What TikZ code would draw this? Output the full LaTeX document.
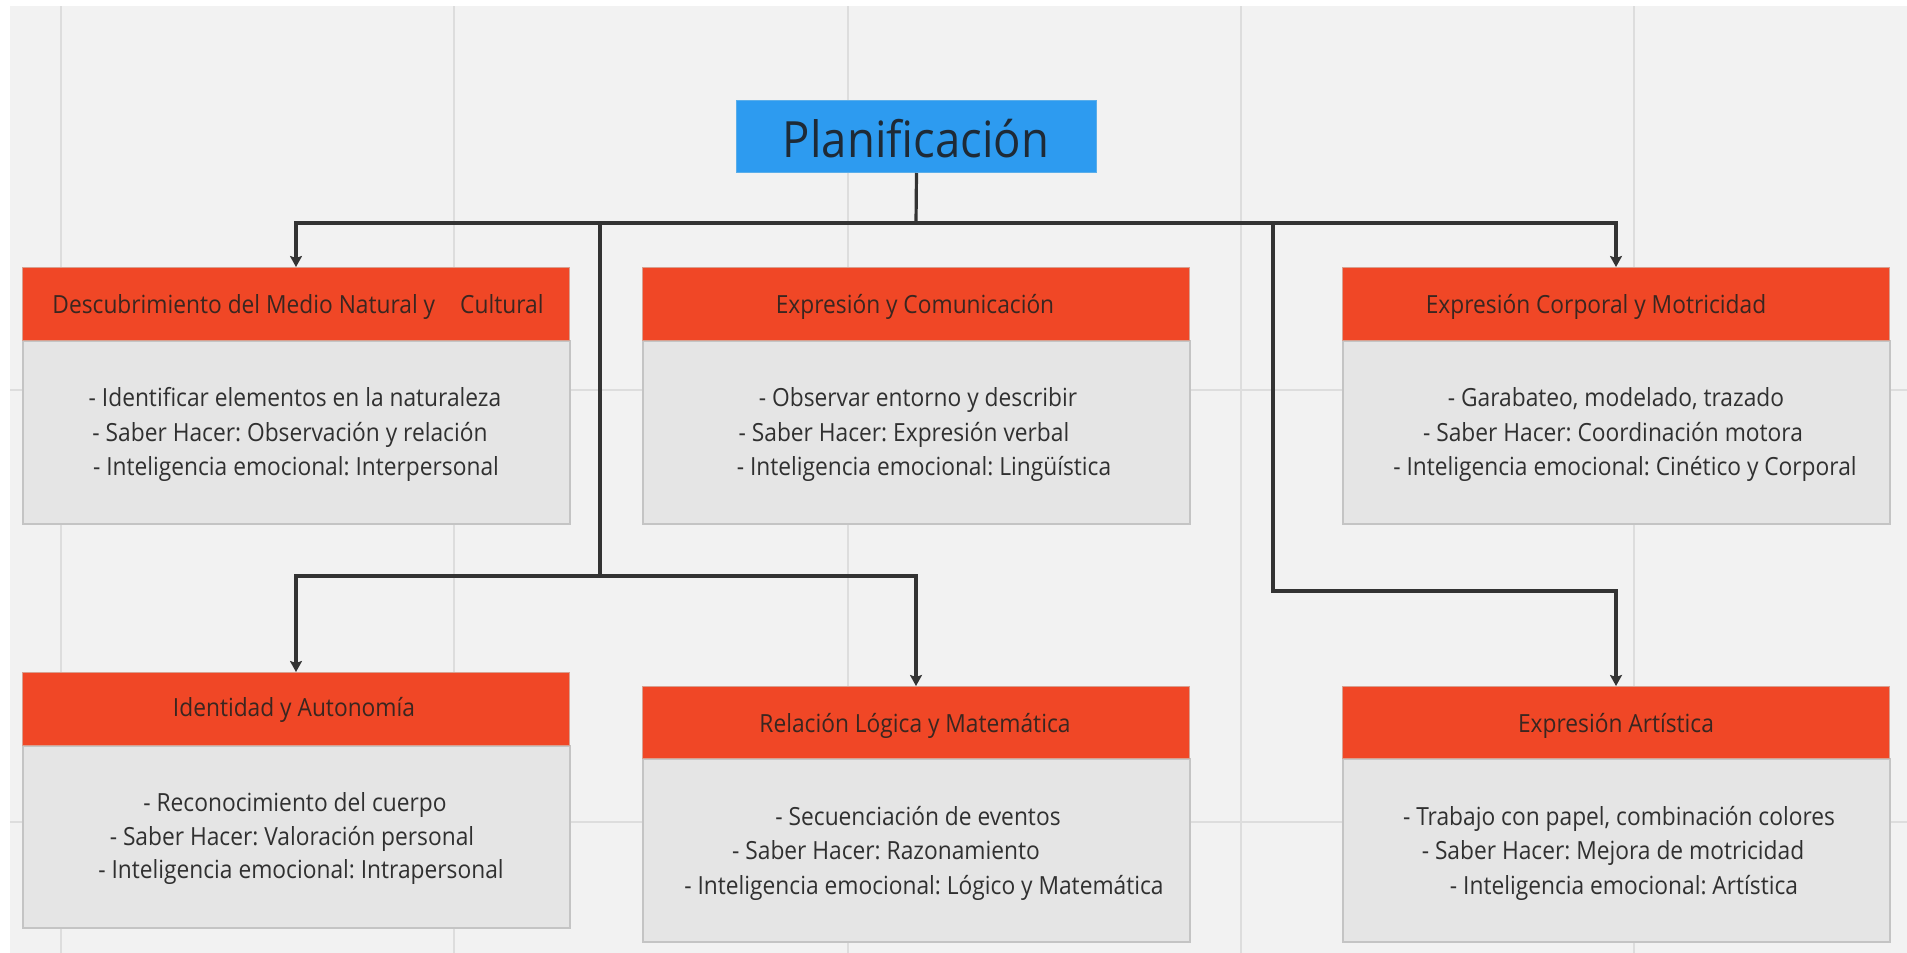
\documentclass[tikz,border=0pt]{standalone}
\usepackage{fontspec}
\setmainfont{Open Sans}[FakeStretch=0.91]
\frenchspacing
\usetikzlibrary{arrows.meta}
\definecolor{pagebg}{HTML}{F2F2F2}
\definecolor{gridc}{HTML}{DDDDDD}
\definecolor{rootfill}{HTML}{2D9BF0}
\definecolor{rootborder}{HTML}{5AAEEA}
\definecolor{hdrfill}{HTML}{F04726}
\definecolor{hdrborder}{HTML}{D8A090}
\definecolor{bodyfill}{HTML}{E5E5E5}
\definecolor{bodyborder}{HTML}{C4C4C4}
\definecolor{linec}{HTML}{333333}
\definecolor{txtc}{HTML}{303030}
\definecolor{hdrtxt}{HTML}{3A2620}
\definecolor{roottxt}{HTML}{1E2A36}
\begin{document}
\begin{tikzpicture}[x=1pt,y=-1pt,
  hdrbox/.style={draw=hdrborder, fill=hdrfill, line width=1pt, minimum width=547pt, minimum height=73pt, inner sep=0pt, anchor=north west},
  bodybox/.style={draw=bodyborder, fill=bodyfill, line width=1.5pt, minimum width=547pt, inner sep=0pt, anchor=north west},
  ttl/.style={text=hdrtxt, font=\fontsize{25}{28}\selectfont\frenchspacing, inner sep=0pt, anchor=base},
  itm/.style={text=txtc, font=\fontsize{25}{28}\selectfont\frenchspacing, inner sep=0pt, anchor=base},
  conn/.style={draw=linec, line width=3.2pt, line join=miter},
  arr/.style={conn, -{Stealth[length=11pt,width=12pt,inset=2pt]}}
]
\useasboundingbox (0,0) rectangle (1907,953);
\fill[white] (0,0) rectangle (1907,953);
\fill[pagebg] (10,6) rectangle (1907,953);
% grid
\foreach \gx in {61,454,848,1241,1634} \draw[gridc, line width=1.5pt] (\gx,6) -- (\gx,953);
\foreach \gy in {390,822} \draw[gridc, line width=1.5pt] (10,\gy) -- (1907,\gy);

% root
\node[draw=rootborder, fill=rootfill, line width=1pt, minimum width=360pt, minimum height=72pt, inner sep=0pt, anchor=north west] (root) at (736,100) {};
\node[text=roottxt, font=\fontsize{50}{56}\selectfont, inner sep=0pt, anchor=base] (rootlbl) at (916,157) {Planificación};

% bodies
\node[bodybox, minimum height=183pt] (b1) at (22,340) {};
\node[bodybox, minimum height=183pt] (b2) at (642,340) {};
\node[bodybox, minimum height=183pt] (b3) at (1342,340) {};
\node[bodybox, minimum height=182pt] (b4) at (22,745) {};
\node[bodybox, minimum height=183pt] (b5) at (642,758) {};
\node[bodybox, minimum height=183pt] (b6) at (1342,758) {};

% headers
\node[hdrbox] (h1) at (22,267) {};
\node[hdrbox] (h2) at (642,267) {};
\node[hdrbox] (h3) at (1342,267) {};
\node[hdrbox] (h4) at (22,672) {};
\node[hdrbox, minimum height=72pt] (h5) at (642,686) {};
\node[hdrbox, minimum height=72pt] (h6) at (1342,686) {};

% titles
\node[ttl] (t1) at (298,313) {Descubrimiento del Medio Natural y\hspace{25pt}Cultural};
\node[ttl] (t2) at (915,313) {Expresión y Comunicación};
\node[ttl] (t3) at (1596,313) {Expresión Corporal y Motricidad};
\node[ttl] (t4) at (294,716) {Identidad y Autonomía};
\node[ttl] (t5) at (915,732) {Relación Lógica y Matemática};
\node[ttl] (t6) at (1616,732) {Expresión Artística};

% items box 1
\node[itm] (b1l1) at (295,406) {- Identificar elementos en la naturaleza};
\node[itm] (b1l2) at (290,441) {- Saber Hacer: Observación y relación};
\node[itm] (b1l3) at (296,475) {- Inteligencia emocional: Interpersonal};
% box 2
\node[itm] (b2l1) at (918,406) {- Observar entorno y describir};
\node[itm] (b2l2) at (904,441) {- Saber Hacer: Expresión verbal};
\node[itm] (b2l3) at (924,475) {- Inteligencia emocional: Lingüística};
% box 3
\node[itm] (b3l1) at (1616,406) {- Garabateo, modelado, trazado};
\node[itm] (b3l2) at (1613,441) {- Saber Hacer: Coordinación motora};
\node[itm] (b3l3) at (1625,475) {- Inteligencia emocional: Cinético y Corporal};
% box 4
\node[itm] (b4l1) at (295,811) {- Reconocimiento del cuerpo};
\node[itm] (b4l2) at (292,845) {- Saber Hacer: Valoración personal};
\node[itm] (b4l3) at (301,878) {- Inteligencia emocional: Intrapersonal};
% box 5
\node[itm] (b5l1) at (918,825) {- Secuenciación de eventos};
\node[itm] (b5l2) at (886,859) {- Saber Hacer: Razonamiento};
\node[itm] (b5l3) at (924,894) {- Inteligencia emocional: Lógico y Matemática};
% box 6
\node[itm] (b6l1) at (1619,825) {- Trabajo con papel, combinación colores};
\node[itm] (b6l2) at (1613,859) {- Saber Hacer: Mejora de motricidad};
\node[itm] (b6l3) at (1624,894) {- Inteligencia emocional: Artística};

% connectors
\coordinate (j0) at (916,223);
\coordinate (jl) at (600,223);
\coordinate (jl2) at (600,576);
\coordinate (jr) at (1273,223);
\coordinate (jr2) at (1273,591);
\draw[conn] (root.south) -- (j0);
\draw[arr] (j0) -| (h1.north);
\draw[arr] (j0) -| (h3.north);
\draw[conn] (jl) -- (jl2);
\draw[arr] (jl2) -| (h4.north);
\draw[arr] (jl2) -| (h5.north);
\draw[arr] (jr) -- (jr2) -| (h6.north);
\end{tikzpicture}
\end{document}
